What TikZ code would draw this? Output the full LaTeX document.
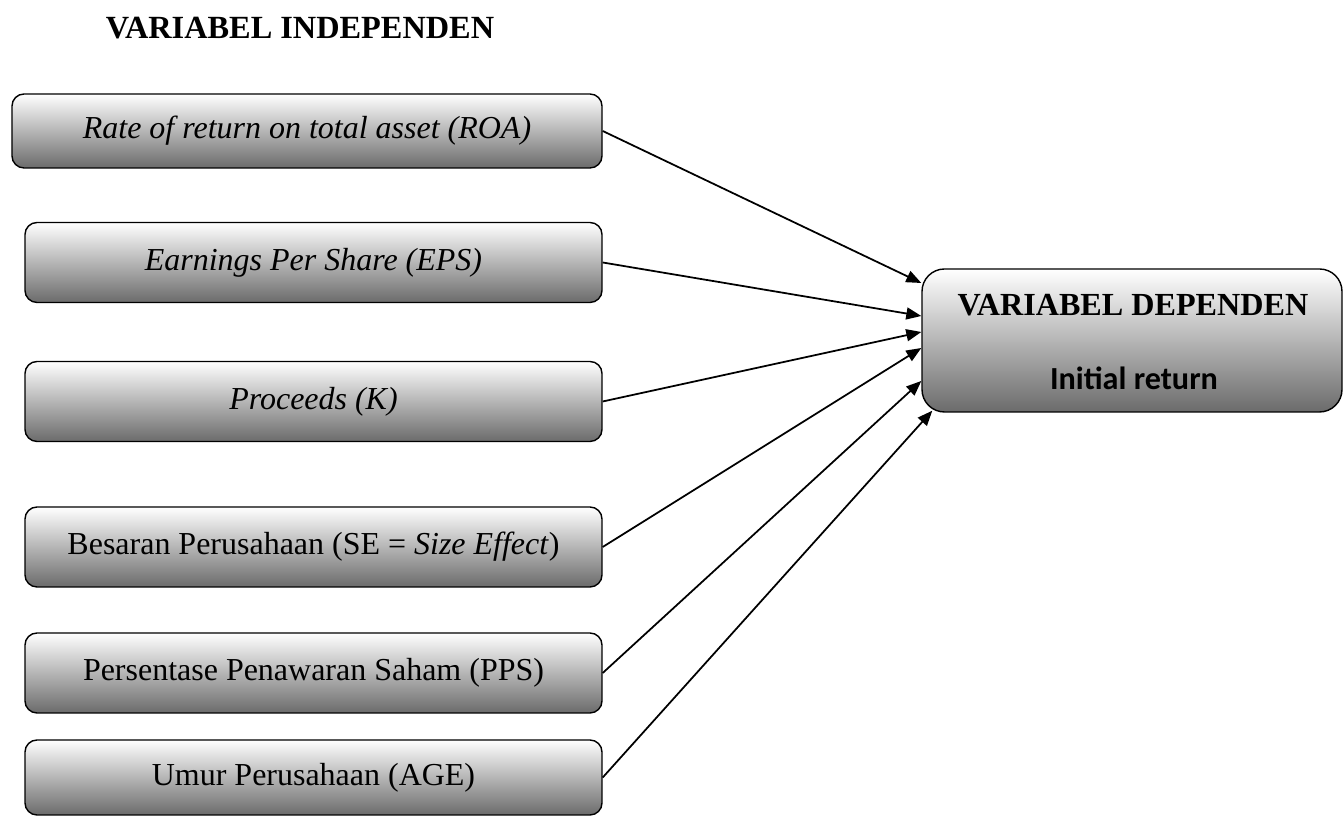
\documentclass[tikz,border=0pt]{standalone}
\usepackage{fontspec}
\setmainfont{Liberation Serif}
\newfontfamily\calibrifont{Carlito}
\usepackage{tikz}
\usetikzlibrary{positioning}
\usetikzlibrary{arrows.meta}

\tikzset{
  varbox/.style={draw=black, line width=0.8pt, rounded corners=0.24cm,
    top color=white, bottom color=black!58, minimum height=1.6cm,
    minimum width=11.54cm, inner sep=0pt, font=\fontsize{18.2}{22}\selectfont},
  depbox/.style={draw=black, line width=0.8pt, rounded corners=0.45cm,
    top color=white, bottom color=black!58, minimum height=2.86cm,
    minimum width=8.4cm, inner sep=0pt},
  link/.style={black, line width=1pt, -{Triangle[length=0.3cm,width=0.24cm]}}
}

\begin{document}
\begin{tikzpicture}

\useasboundingbox (0,0) rectangle (26.86,16.32);

% title
\node (title) at (6.0,15.76) {\fontsize{18.4}{22}\selectfont\bfseries VARIABEL INDEPENDEN};

% independent variables
\node[varbox, minimum width=11.8cm, minimum height=1.48cm] (roa) at (6.14,13.70)
  {\itshape Rate of return on total asset (ROA)};
\node[varbox] (eps) at (6.27,11.07) {\itshape Earnings Per Share (EPS)};
\node[varbox] (proc) at (6.27,8.29) {\itshape Proceeds (K)};
\node[varbox] (se) at (6.27,5.38) {Besaran Perusahaan (SE = \textit{Size Effect})};
\node[varbox] (pps) at (6.27,2.86) {Persentase Penawaran Saham (PPS)};
\node[varbox, minimum height=1.5cm] (age) at (6.27,0.77) {Umur Perusahaan (AGE)};

% dependent variable
\node[depbox] (dep) at (22.64,9.51) {};
\node (deptitle) at (22.66,10.22) {\fontsize{18.3}{22}\selectfont\bfseries VARIABEL DEPENDEN};
\node (depvar) at (22.68,8.76) {\fontsize{18.3}{22}\selectfont\calibrifont\bfseries Initial return};

% arrows
\draw[link] (roa.east) -- ([yshift=1.15cm]dep.west);
\draw[link] (eps.east) -- ([yshift=0.49cm]dep.west);
\draw[link] (proc.east) -- ([yshift=0.17cm]dep.west);
\draw[link] (se.east) -- ([yshift=-0.15cm]dep.west);
\draw[link] (pps.east) -- ([yshift=-0.81cm]dep.west);
\draw[link] (age.east) -- ([xshift=0.22cm,yshift=0.04cm]dep.south west);

\end{tikzpicture}
\end{document}
